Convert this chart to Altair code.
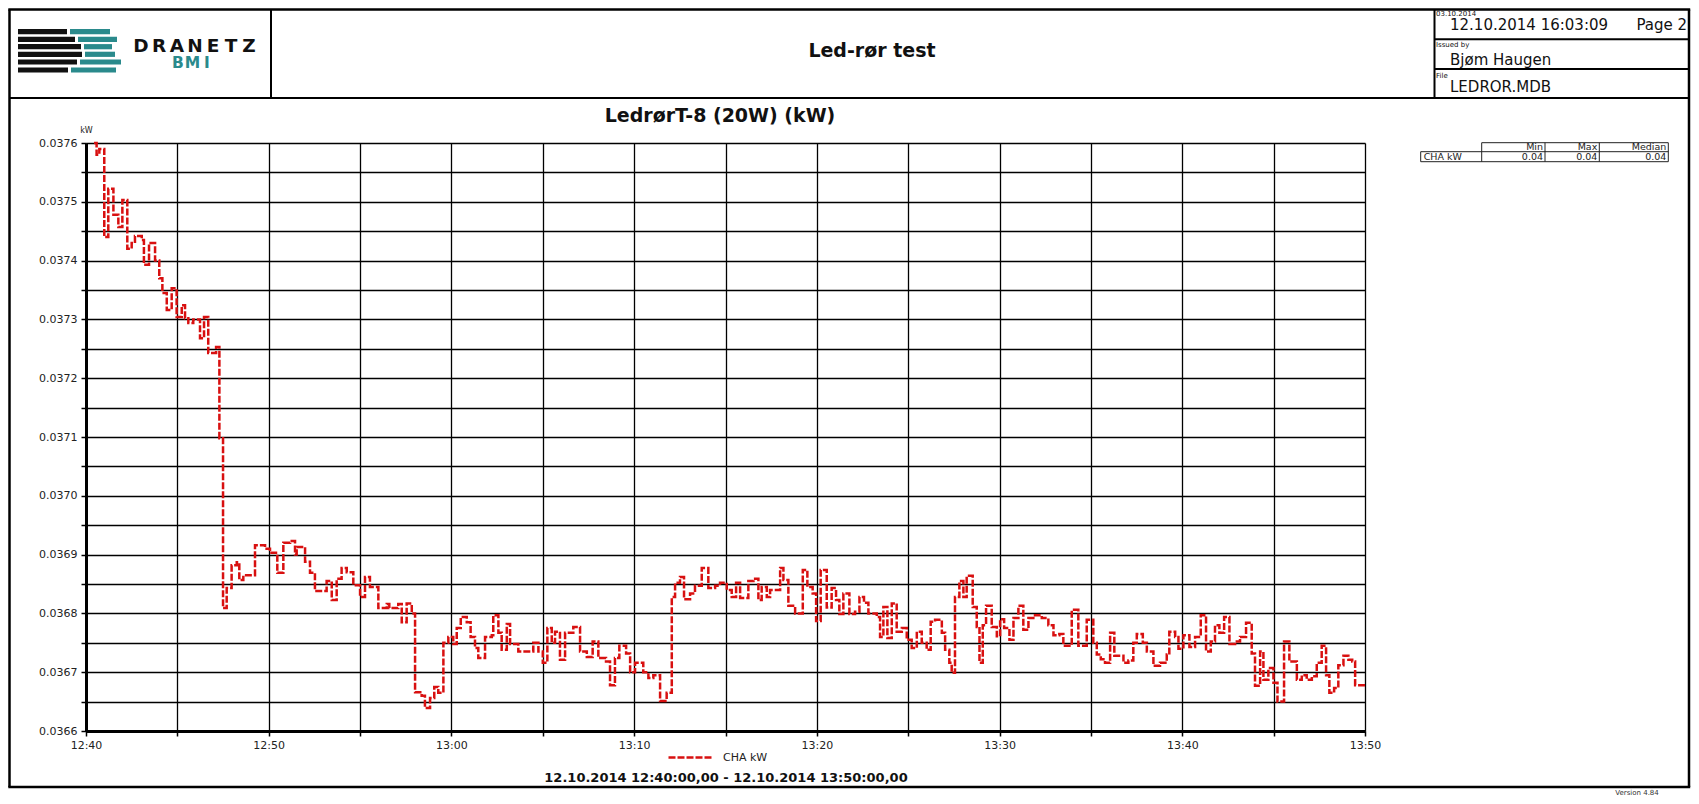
import altair as alt
import pandas as pd

# ---------------- data ----------------
minutes = [
    0.44, 0.58, 0.73, 1.00, 1.22, 1.50, 1.77, 1.99, 2.26, 2.50,
    2.68, 3.05, 3.17, 3.45, 3.78, 4.01, 4.18, 4.42, 4.69, 4.96,
    5.24, 5.42, 5.60, 5.87, 6.24, 6.46, 6.69, 7.12, 7.30, 7.50,
    7.70, 7.97, 8.25, 8.39, 8.61, 9.25, 9.80, 10.07, 10.47, 10.80,
    11.17, 11.44, 11.53, 11.99, 12.26, 12.53, 13.17, 13.45, 13.72, 13.99,
    14.27, 14.63, 15.00, 15.27, 15.54, 16.00, 16.46, 16.60, 17.09, 17.28,
    17.55, 17.83, 18.01, 18.37, 18.55, 18.83, 19.06, 19.28, 19.56, 19.83,
    20.10, 20.29, 20.51, 20.84, 21.05, 21.29, 21.47, 21.84, 22.21, 22.29,
    22.57, 22.75, 23.03, 23.21, 23.66, 24.48, 24.76, 25.00, 25.25, 25.49,
    25.67, 25.94, 26.22, 26.67, 27.04, 27.41, 27.73, 28.04, 28.46, 28.68,
    28.95, 29.19, 29.56, 29.78, 30.05, 30.50, 30.78, 31.05, 31.42, 31.78,
    32.06, 32.24, 32.51, 32.73, 33.06, 33.33, 33.70, 34.06, 34.43, 34.70,
    35.07, 35.34, 35.58, 35.80, 36.25, 36.53, 36.80, 36.98, 37.26, 37.44,
    37.99, 38.17, 38.44, 38.81, 39.23, 39.48, 39.77, 39.96, 40.21, 40.54,
    40.81, 41.05, 41.23, 41.45, 41.78, 42.09, 42.33, 42.58, 42.82, 43.28,
    43.46, 43.64, 43.86, 44.10, 44.37, 44.65, 44.92, 45.19, 45.47, 45.74,
    46.01, 46.23, 46.47, 46.84, 47.02, 47.25, 47.38, 47.56, 47.80, 48.02,
    48.20, 48.53, 48.75, 48.90, 49.08, 49.26, 49.57, 49.85, 50.03, 50.25,
    50.54, 50.76, 51.03, 51.30, 51.58, 51.94, 52.31, 52.67, 52.95, 53.27,
    53.49, 53.95, 54.31, 54.77, 55.13, 55.32, 55.54, 55.77, 56.05, 56.28,
    56.78, 57.05, 57.32, 57.51, 57.84, 58.06, 58.42, 58.78, 59.15, 59.29,
    59.61, 59.79, 60.06, 60.39, 60.70, 61.01, 61.30, 61.56, 61.79, 62.03,
    62.29, 62.58, 62.89, 63.16, 63.49, 63.80, 63.98, 64.26, 64.44, 64.71,
    64.99, 65.21, 65.57, 65.86, 66.27, 66.54, 66.81, 67.09, 67.36, 67.63,
    67.87, 68.05, 68.31, 68.54, 68.82, 69.09, 69.30, 69.46, 70.00,
]
kw = [
    0.037600, 0.037580, 0.037590, 0.037440, 0.037522, 0.037478, 0.037457, 0.037503, 0.037420, 0.037430,
    0.037442, 0.037435, 0.037393, 0.037430, 0.037400, 0.037370, 0.037345, 0.037316, 0.037353, 0.037304,
    0.037324, 0.037302, 0.037294, 0.037300, 0.037268, 0.037304, 0.037243, 0.037253, 0.037098, 0.036809,
    0.036843, 0.036882, 0.036887, 0.036857, 0.036865, 0.036916, 0.036910, 0.036903, 0.036869, 0.036920,
    0.036923, 0.036900, 0.036913, 0.036888, 0.036869, 0.036838, 0.036855, 0.036823, 0.036859, 0.036877,
    0.036870, 0.036848, 0.036828, 0.036862, 0.036845, 0.036809, 0.036816, 0.036809, 0.036816, 0.036785,
    0.036817, 0.036800, 0.036666, 0.036660, 0.036639, 0.036656, 0.036675, 0.036665, 0.036750, 0.036760,
    0.036748, 0.036775, 0.036794, 0.036785, 0.036760, 0.036741, 0.036724, 0.036760, 0.036763, 0.036797,
    0.036767, 0.036738, 0.036782, 0.036748, 0.036735, 0.036750, 0.036735, 0.036716, 0.036775, 0.036750,
    0.036769, 0.036721, 0.036767, 0.036777, 0.036735, 0.036726, 0.036752, 0.036724, 0.036718, 0.036678,
    0.036724, 0.036745, 0.036732, 0.036700, 0.036716, 0.036700, 0.036690, 0.036695, 0.036651, 0.036665,
    0.036828, 0.036852, 0.036862, 0.036824, 0.036834, 0.036847, 0.036877, 0.036843, 0.036847, 0.036852,
    0.036840, 0.036828, 0.036852, 0.036826, 0.036855, 0.036859, 0.036823, 0.036845, 0.036828, 0.036840,
    0.036877, 0.036857, 0.036813, 0.036800, 0.036874, 0.036845, 0.036834, 0.036787, 0.036874, 0.036810,
    0.036843, 0.036823, 0.036799, 0.036834, 0.036799, 0.036803, 0.036828, 0.036818, 0.036800, 0.036794,
    0.036760, 0.036811, 0.036758, 0.036817, 0.036769, 0.036775, 0.036755, 0.036741, 0.036769, 0.036750,
    0.036738, 0.036786, 0.036789, 0.036767, 0.036738, 0.036716, 0.036699, 0.036828, 0.036855, 0.036828,
    0.036864, 0.036811, 0.036777, 0.036716, 0.036780, 0.036813, 0.036777, 0.036761, 0.036790, 0.036775,
    0.036755, 0.036792, 0.036813, 0.036772, 0.036792, 0.036797, 0.036792, 0.036780, 0.036763, 0.036765,
    0.036745, 0.036806, 0.036745, 0.036789, 0.036750, 0.036730, 0.036722, 0.036716, 0.036767, 0.036728,
    0.036716, 0.036720, 0.036750, 0.036765, 0.036750, 0.036735, 0.036711, 0.036716, 0.036730, 0.036769,
    0.036760, 0.036740, 0.036763, 0.036743, 0.036760, 0.036797, 0.036735, 0.036752, 0.036780, 0.036767,
    0.036794, 0.036748, 0.036752, 0.036760, 0.036784, 0.036732, 0.036677, 0.036735, 0.036687, 0.036707,
    0.036682, 0.036650, 0.036752, 0.036718, 0.036687, 0.036695, 0.036687, 0.036693, 0.036716, 0.036745,
    0.036695, 0.036665, 0.036673, 0.036712, 0.036728, 0.036721, 0.036718, 0.036678, 0.036678,
]
assert len(minutes) == len(kw)

series_name = "CHA kW"
x_tick_labels = ["12:40", "12:50", "13:00", "13:10", "13:20", "13:30", "13:40", "13:50"]
y_min, y_max = 0.0366, 0.0376
stat_names = ["Min", "Max", "Median"]
stat_values = ["0.04", "0.04", "0.04"]

report_title = "Led-rør test"
chart_title = "LedrørT-8 (20W) (kW)"
date_label = "03.10.2014"
printed_at = "12.10.2014 16:03:09"
page_label = "Page 2"
issued_label = "Issued by"
issued_by = "Bjøm Haugen"
file_label = "File"
file_name = "LEDROR.MDB"
time_range = "12.10.2014 12:40:00,00 - 12.10.2014 13:50:00,00"
version = "Version 4.84"

# ---------------- layout ----------------
FONT = "DejaVu Sans"
RED = "#d81010"
TEAL = "#2a8a8c"
W, H = 1279, 588
PAD_L, PAD_T = 78, 135
SVG_W, SVG_H = 1683, 788
OX, OY = 8 + PAD_L, 8 + PAD_T  # page position of the plot origin


def px(x):
    return x - OX


def py(y):
    return y - OY


df = pd.DataFrame({"t": minutes, "kw": kw, "series": [series_name] * len(minutes)})
one = pd.DataFrame({"k": [0]})

x_ticks = list(range(0, 71, 5))
y_ticks = [round(y_min + i * 0.00005, 5) for i in range(21)]
labels_js = "[" + ",".join("'%s'" % s for s in x_tick_labels) + "]"
x_label_expr = f"datum.value % 10 == 0 ? {labels_js}[round(datum.value / 10)] : ''"
y_label_expr = "round(datum.value * 100000) % 10 == 0 ? format(datum.value, '.4f') : ''"

common_axis = dict(
    grid=True, gridColor="black", gridWidth=1.3, gridOpacity=1,
    domainColor="black", domainWidth=3,
    tickColor="black", tickWidth=1.5, tickSize=5,
    labelFont=FONT, labelFontSize=11, labelColor="#222",
    labelOverlap=False, labelFlush=False,
)

line = alt.Chart(df).mark_line(
    interpolate="step-after", strokeWidth=2.5, strokeDash=[7, 2]
).encode(
    x=alt.X("t:Q", scale=alt.Scale(domain=[0, 70], nice=False, zero=False),
            axis=alt.Axis(values=x_ticks, labelExpr=x_label_expr, title=None,
                          labelPadding=3, **common_axis)),
    y=alt.Y("kw:Q", scale=alt.Scale(domain=[y_min, y_max], nice=False, zero=False),
            axis=alt.Axis(values=y_ticks, labelExpr=y_label_expr, title="kW",
                          titleAngle=0, titleX=0, titleY=-9, titleAlign="center",
                          titleBaseline="bottom", titleFont=FONT, titleFontSize=8,
                          titleFontWeight="normal", titleColor="#222",
                          labelPadding=4, **common_axis)),
    color=alt.Color("series:N", scale=alt.Scale(domain=[series_name], range=[RED]),
                    legend=alt.Legend(orient="none", legendX=px(667), legendY=py(756) - 22.5,
                                      title=None, symbolType="stroke", symbolDash=[7, 2],
                                      symbolStrokeWidth=2.5, symbolSize=2025, padding=0,
                                      labelFont=FONT, labelFontSize=11, labelColor="#222",
                                      labelOffset=8)),
)


def text(s, x, y, size, align="left", weight="normal", color="#111", baseline="alphabetic"):
    return alt.Chart(one).mark_text(
        text=s, align=align, baseline=baseline, font=FONT, fontSize=size,
        fontWeight=weight, color=color,
    ).encode(x=alt.value(px(x)), y=alt.value(py(y)))


def hline(x1, x2, y, w=2, color="black", cap="butt"):
    return alt.Chart(one).mark_rule(color=color, strokeWidth=w, strokeCap=cap).encode(
        x=alt.value(px(x1)), x2=alt.value(px(x2)), y=alt.value(py(y)))


def vline(x, y1, y2, w=2, color="black"):
    return alt.Chart(one).mark_rule(color=color, strokeWidth=w).encode(
        x=alt.value(px(x)), y=alt.value(py(y1)), y2=alt.value(py(y2)))


layers = [line]

# report frame
L, T, R, B = 9.5, 9.5, 1689, 787
layers += [
    hline(L - 1.2, R + 1.2, T, w=2.5), hline(L - 1.2, R + 1.2, B, w=2.5),
    vline(L, T, B, w=2.5), vline(R, T, B, w=2.5),
    hline(L, R, 98), vline(271, T, 98), vline(1434.5, T, 98),
    hline(1434.5, R, 39.3), hline(1434.5, R, 69),
]

# logo
stripe_y = [31.7, 39.3, 46.7, 54.3, 62.0, 70.0]
d_end = [67, 75, 81, 82, 77, 68]
b_end = [110, 117, 112, 115, 121, 116]
for yy, de, be in zip(stripe_y, d_end, b_end):
    layers.append(hline(18, de, yy, w=5.2, color="#111"))
    layers.append(hline(de + 3, be, yy, w=5.2, color=TEAL))
for i, ch in enumerate("DRANETZ"):
    layers.append(text(ch, 141 + 18 * i, 51.5, 18.5, align="center", weight="bold", color="#111"))
for i, ch in enumerate("BMI"):
    layers.append(text(ch, 178 + 14.5 * i, 68, 15.5, align="center", weight="bold", color=TEAL))

# header texts
layers += [
    text(report_title, 872, 57, 19, align="center", weight="bold"),
    text(date_label, 1436, 15.5, 7),
    text(printed_at, 1450, 30, 15),
    text(page_label, 1687, 30, 15, align="right"),
    text(issued_label, 1436, 47, 7),
    text(issued_by, 1450, 64.5, 15),
    text(file_label, 1436, 77.5, 7),
    text(file_name, 1450, 91.5, 15),
]

# chart title and footer
layers += [
    text(chart_title, 720, 122, 19, align="center", weight="bold"),
    text(time_range, 726, 782, 13, align="center", weight="bold"),
    text(version, 1637, 795, 7, align="center", color="#333"),
]

# statistics table
cols = [1420.7, 1481.7, 1545.0, 1599.3, 1668.3]
r0, r1, r2 = 142.7, 151.7, 161.7
layers += [
    hline(cols[1], cols[4], r0, w=1, color="#222"),
    hline(cols[0], cols[4], r1, w=1, color="#222"),
    hline(cols[0], cols[4], r2, w=1, color="#222"),
    vline(cols[0], r1, r2, w=1, color="#222"),
]
for c in cols[1:]:
    layers.append(vline(c, r0, r2, w=1, color="#222"))
layers.append(text(series_name, cols[0] + 3, r2 - 2, 9.5, color="#222"))
for i, (nm, val) in enumerate(zip(stat_names, stat_values)):
    layers.append(text(nm, cols[i + 2] - 2, r1 - 1.5, 9.5, align="right", color="#222"))
    layers.append(text(val, cols[i + 2] - 2, r2 - 2, 9.5, align="right", color="#222"))

chart = alt.layer(*layers).properties(
    width=W, height=H,
    autosize=alt.AutoSizeParams(type="none"),
    padding={"left": PAD_L, "top": PAD_T, "right": SVG_W - PAD_L - W, "bottom": SVG_H - PAD_T - H},
    background="white",
).configure_view(strokeWidth=0).configure(font=FONT)

chart.save("out.html", embed_options={"renderer": "svg", "actions": False})
